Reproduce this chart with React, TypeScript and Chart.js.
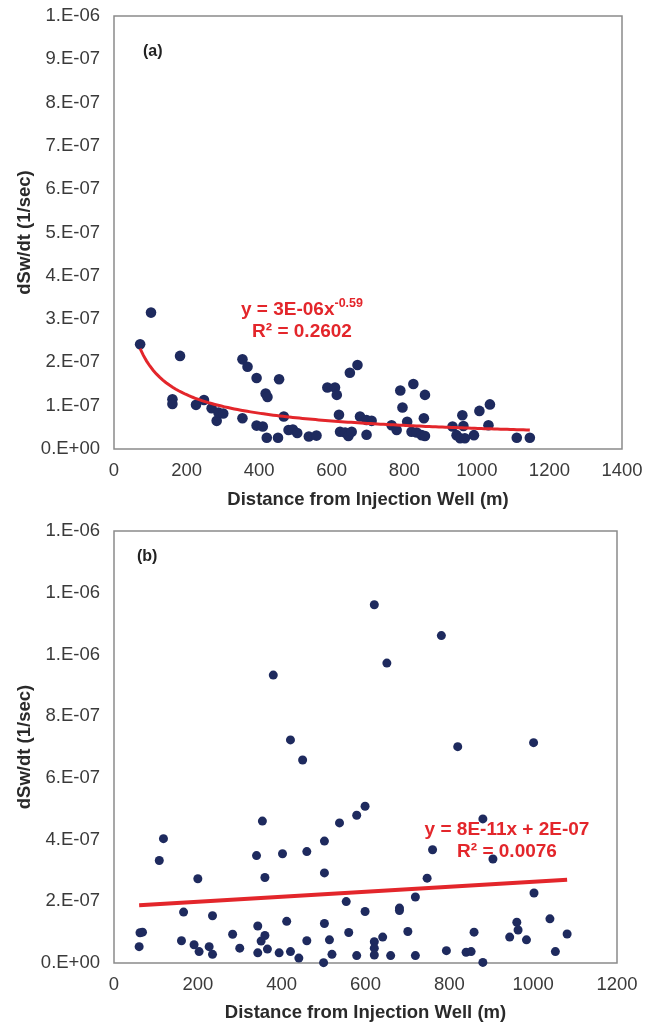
import React, { useEffect, useRef } from 'react';
import { Chart, registerables } from 'chart.js';

Chart.register(...registerables);

// ---------------- DATA ----------------
// Panel (a): distance (m) and dSw/dt in units of 1E-07 1/sec
const distA = [72, 102, 161, 161, 182, 226, 248, 269, 283, 288, 301, 354, 354, 368, 393, 418, 423, 393, 410, 421, 452, 455, 468, 481, 493, 505, 537, 558, 588, 609, 614, 650, 671, 620, 623, 637, 646, 655, 678, 696, 710, 696, 765, 779, 789, 795, 825, 808, 820, 834, 848, 857, 857, 854, 933, 944, 954, 967, 960, 963, 992, 1007, 1036, 1032, 1110, 1146];
const rateA = [2.42, 3.15, 1.15, 1.04, 2.15, 1.02, 1.13, 0.94, 0.65, 0.84, 0.82, 0.71, 2.07, 1.9, 1.64, 1.28, 1.2, 0.54, 0.52, 0.26, 0.26, 1.61, 0.75, 0.44, 0.45, 0.37, 0.29, 0.31, 1.42, 1.42, 1.25, 1.76, 1.94, 0.79, 0.4, 0.38, 0.3, 0.4, 0.75, 0.67, 0.65, 0.33, 0.55, 0.44, 1.35, 0.96, 1.5, 0.63, 0.4, 0.38, 0.32, 0.3, 1.25, 0.71, 0.52, 0.32, 0.25, 0.25, 0.78, 0.53, 0.32, 0.88, 1.03, 0.55, 0.26, 0.26];

// Panel (b)
const distB = [60, 62, 68, 108, 118, 161, 166, 191, 200, 203, 227, 235, 235, 283, 300, 340, 343, 343, 351, 354, 360, 360, 366, 380, 394, 402, 412, 421, 421, 441, 450, 460, 460, 502, 502, 502, 500, 514, 520, 538, 554, 560, 579, 579, 599, 599, 621, 621, 621, 621, 641, 651, 660, 681, 681, 701, 719, 719, 747, 760, 781, 793, 820, 840, 852, 859, 880, 880, 904, 944, 961, 964, 984, 1001, 1002, 1040, 1053, 1081];
const rateB = [0.53, 0.98, 1.0, 3.32, 4.03, 0.72, 1.65, 0.59, 2.73, 0.37, 0.53, 1.53, 0.28, 0.93, 0.48, 3.48, 1.2, 0.33, 0.71, 4.6, 2.77, 0.89, 0.45, 9.33, 0.33, 3.54, 1.35, 7.23, 0.37, 0.16, 6.58, 3.61, 0.72, 3.95, 2.92, 1.28, 0.01, 0.75, 0.28, 4.54, 1.99, 0.99, 4.79, 0.24, 5.08, 1.67, 11.61, 0.69, 0.48, 0.26, 0.84, 9.72, 0.24, 1.78, 1.7, 1.02, 2.14, 0.24, 2.75, 3.67, 10.61, 0.4, 7.01, 0.35, 0.37, 1.0, 4.67, 0.02, 3.37, 0.84, 1.32, 1.07, 0.75, 7.14, 2.27, 1.43, 0.37, 0.94];

const RATE_UNIT = 1e-7;

// Tick values
const xTicksA = [0, 200, 400, 600, 800, 1000, 1200, 1400];
const yTicksA = [0, 1e-7, 2e-7, 3e-7, 4e-7, 5e-7, 6e-7, 7e-7, 8e-7, 9e-7, 1e-6];
const xTicksB = [0, 200, 400, 600, 800, 1000, 1200];
const yTicksB = [0, 2e-7, 4e-7, 6e-7, 8e-7, 1e-6, 1.2e-6, 1.4e-6];

// Texts
const xTitle = 'Distance from Injection Well (m)';
const yTitle = 'dSw/dt (1/sec)';
const eqA1 = 'y = 3E-06x';
const eqA1Sup = '-0.59';
const eqA2 = 'R² = 0.2602';
const eqB1 = 'y = 8E-11x + 2E-07';
const eqB2 = 'R² = 0.0076';

// ---------------- HELPERS ----------------
const FONT = "'Liberation Sans', Arial, Helvetica, sans-serif";
const NAVY = '#1e2a5e';
const RED = '#e3262b';

function sciLabel(v: number): string {
  const s = Number(v).toExponential(0);
  const [m, e] = s.split('e');
  const en = parseInt(e, 10);
  return `${m}.E${en < 0 ? '-' : '+'}${String(Math.abs(en)).padStart(2, '0')}`;
}

function powerFit(xs: number[], ys: number[]) {
  const n = xs.length;
  let sx = 0, sy = 0, sxx = 0, sxy = 0;
  for (let i = 0; i < n; i++) {
    const lx = Math.log(xs[i]);
    const ly = Math.log(ys[i]);
    sx += lx; sy += ly; sxx += lx * lx; sxy += lx * ly;
  }
  const b = (n * sxy - sx * sy) / (n * sxx - sx * sx);
  const a = Math.exp((sy - b * sx) / n);
  return { a, b };
}

function linearFit(xs: number[], ys: number[]) {
  const n = xs.length;
  let sx = 0, sy = 0, sxx = 0, sxy = 0;
  for (let i = 0; i < n; i++) {
    sx += xs[i]; sy += ys[i]; sxx += xs[i] * xs[i]; sxy += xs[i] * ys[i];
  }
  const m = (n * sxy - sx * sy) / (n * sxx - sx * sx);
  const c = (sy - m * sx) / n;
  return { m, c };
}

type Part = { t: string; sup?: boolean };

const decorPlugin = {
  id: 'panelDecor',
  beforeDatasetsDraw(chart: any) {
    const { ctx, chartArea: a } = chart;
    ctx.save();
    ctx.strokeStyle = '#8a8a8a';
    ctx.lineWidth = 1.5;
    ctx.strokeRect(a.left, a.top, a.right - a.left, a.bottom - a.top);
    ctx.restore();
  },
  afterDatasetsDraw(chart: any, _args: any, opts: any) {
    const { ctx, chartArea: a } = chart;
    ctx.save();
    ctx.textBaseline = 'middle';
    ctx.textAlign = 'left';
    ctx.fillStyle = '#222';
    ctx.font = `bold 16px ${FONT}`;
    ctx.fillText(opts.label, a.left + opts.labelDx, a.top + opts.labelDy);

    ctx.fillStyle = RED;
    const lines: Part[][] = opts.lines;
    lines.forEach((parts, i) => {
      const widths = parts.map((p) => {
        ctx.font = `bold ${p.sup ? 12.5 : 19}px ${FONT}`;
        return ctx.measureText(p.t).width;
      });
      const total = widths.reduce((s, w) => s + w, 0);
      let x = a.left + opts.eqDx - total / 2;
      const y = a.top + opts.eqDy + i * opts.eqLine;
      parts.forEach((p, j) => {
        ctx.font = `bold ${p.sup ? 12.5 : 19}px ${FONT}`;
        ctx.fillText(p.t, x, p.sup ? y - 6 : y);
        x += widths[j];
      });
    });
    ctx.restore();
  },
};

type PanelProps = {
  xs: number[];
  ys: number[];
  xTicks: number[];
  yTicks: number[];
  fit: 'power' | 'linear';
  height: number;
  padTop: number;
  padRight: number;
  xAxisHeight: number;
  pointRadius: number;
  lineWidth: number;
  label: string;
  labelDx: number;
  labelDy: number;
  lines: Part[][];
  eqDx: number;
  eqDy: number;
};

function Panel(props: PanelProps) {
  const ref = useRef<HTMLCanvasElement>(null);
  useEffect(() => {
    if (!ref.current) return;
    const pts = props.xs.map((x, i) => ({ x, y: props.ys[i] * RATE_UNIT }));
    const ysAbs = props.ys.map((v) => v * RATE_UNIT);
    const minX = Math.min(...props.xs);
    const maxX = Math.max(...props.xs);
    let trend: { x: number; y: number }[] = [];
    if (props.fit === 'power') {
      const { a, b } = powerFit(props.xs, ysAbs);
      const N = 120;
      for (let i = 0; i <= N; i++) {
        const x = minX + ((maxX - minX) * i) / N;
        trend.push({ x, y: a * Math.pow(x, b) });
      }
    } else {
      const { m, c } = linearFit(props.xs, ysAbs);
      trend = [
        { x: minX, y: m * minX + c },
        { x: maxX, y: m * maxX + c },
      ];
    }
    const xMax = props.xTicks[props.xTicks.length - 1];
    const yMax = props.yTicks[props.yTicks.length - 1];
    const chart = new Chart(ref.current, {
      type: 'scatter',
      data: {
        datasets: [
          {
            type: 'line',
            data: trend,
            borderColor: RED,
            borderWidth: props.lineWidth,
            pointRadius: 0,
            fill: false,
            tension: 0,
            order: 0,
            clip: false,
          } as any,
          {
            data: pts,
            backgroundColor: NAVY,
            borderColor: NAVY,
            borderWidth: 0,
            pointRadius: props.pointRadius,
            order: 1,
            clip: false,
          } as any,
        ],
      },
      options: {
        animation: false,
        responsive: false,
        devicePixelRatio: 1,
        layout: { padding: { top: props.padTop, right: props.padRight, left: 0, bottom: 0 } },
        plugins: {
          legend: { display: false },
          tooltip: { enabled: false },
          panelDecor: {
            label: props.label,
            labelDx: props.labelDx,
            labelDy: props.labelDy,
            lines: props.lines,
            eqDx: props.eqDx,
            eqDy: props.eqDy,
            eqLine: 22,
          },
        } as any,
        scales: {
          x: {
            type: 'linear',
            min: 0,
            max: xMax,
            grid: { display: false, drawTicks: false },
            border: { display: false },
            afterBuildTicks: (s: any) => {
              s.ticks = props.xTicks.map((v) => ({ value: v }));
            },
            afterFit: (s: any) => {
              s.height = props.xAxisHeight;
              s.paddingLeft = 0;
              s.paddingRight = 0;
            },
            ticks: {
              padding: 11,
              color: '#3a3a3a',
              font: { family: FONT, size: 18.5 },
              maxRotation: 0,
              callback: (v: any) => String(v),
            },
            title: {
              display: true,
              text: xTitle,
              color: '#2a2a2a',
              font: { family: FONT, size: 18.5, weight: 'bold', lineHeight: 1 },
              padding: { top: 0, bottom: 1 },
            },
          },
          y: {
            type: 'linear',
            min: 0,
            max: yMax,
            grid: { display: false, drawTicks: false },
            border: { display: false },
            afterBuildTicks: (s: any) => {
              s.ticks = props.yTicks.map((v) => ({ value: v }));
            },
            afterFit: (s: any) => {
              s.width = 114;
              s.paddingTop = 0;
              s.paddingBottom = 0;
            },
            ticks: {
              padding: 14,
              color: '#3a3a3a',
              font: { family: FONT, size: 18.5 },
              callback: (v: any) => sciLabel(Number(v)),
            },
            title: {
              display: true,
              text: yTitle,
              color: '#2a2a2a',
              font: { family: FONT, size: 18.5, weight: 'bold', lineHeight: 1 },
              padding: { top: 16, bottom: 0 },
            },
          },
        },
      },
      plugins: [decorPlugin as any],
    });
    return () => chart.destroy();
  }, []);
  return (
    <div style={{ width: 655, height: props.height, position: 'relative' }}>
      <canvas ref={ref} width={655} height={props.height} style={{ display: 'block' }} />
    </div>
  );
}

export default function App() {
  return (
    <div style={{ position: 'absolute', left: 0, top: 0, width: 655, height: 1023, background: '#fff' }}>
      <Panel
        xs={distA}
        ys={rateA}
        xTicks={xTicksA}
        yTicks={yTicksA}
        fit="power"
        height={510}
        padTop={16}
        padRight={33}
        xAxisHeight={61}
        pointRadius={5.3}
        lineWidth={3}
        label="(a)"
        labelDx={29}
        labelDy={36}
        lines={[[{ t: eqA1 }, { t: eqA1Sup, sup: true }], [{ t: eqA2 }]]}
        eqDx={188}
        eqDy={294}
      />
      <Panel
        xs={distB}
        ys={rateB}
        xTicks={xTicksB}
        yTicks={yTicksB}
        fit="linear"
        height={513}
        padTop={21}
        padRight={38}
        xAxisHeight={60}
        pointRadius={4.5}
        lineWidth={4}
        label="(b)"
        labelDx={23}
        labelDy={26}
        lines={[[{ t: eqB1 }], [{ t: eqB2 }]]}
        eqDx={393}
        eqDy={299}
      />
    </div>
  );
}
